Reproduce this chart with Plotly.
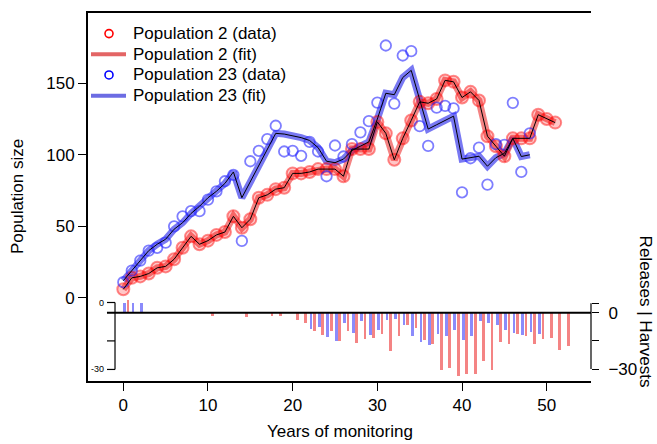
import plotly.graph_objects as go

# ---------------- data ----------------
years_pop2 = list(range(52))
pop2_data = [6, 14, 15, 17, 21, 22, 27, 35, 43, 37.5, 40, 44, 46, 57, 49, 55,
             70, 72, 76, 77, 87, 87, 88, 90, 90, 90, 85, 104, 104, 104, 123, 115,
             96.5, 111.5, 124, 137, 136, 139, 152, 151, 140, 144, 138, 113, 106, 99,
             111.5, 111.5, 111.5, 128, 125, 122.5]
pop2_fit = [6, 14, 15, 17, 21, 22, 27, 35, 43, 37.5, 40, 44, 46, 57, 49, 55,
            70, 72, 76, 77, 87, 87, 88, 90, 90, 90, 85, 104, 104, 104, 123, 115,
            96.5, 111.5, 124, 137, 136, 139, 152, 151, 140, 144, 138, 113, 106, 99,
            111.5, 111.5, 111.5, 128, 125, 122.5]

years_pop23 = list(range(49))
pop23_data = [11, 19, 26, 33, 35, 38.6, 50, 57, 60.6, 60.6, 68.7, 74.5, 81.5, 86,
              39.8, 95.5, 102.8, 111, 120.3, 102.3, 102.8, 99.3, 109, 102.3, 85,
              106.5, 98.8, 107.4, 115.7, 123.5, 136.5, 176.4, 135.8, 169.4, 172.4,
              120, 106.2, 133, 134.2, 132.4, 73.8, 97.6, 105, 79.2, 107.4, 107,
              136.3, 88, 115]
pop23_fit = [12, 19, 26, 33, 37.5, 41, 48, 52.5, 59, 64, 70, 74.5, 80, 88, 70,
             81, 92, 104, 115, 114.5, 113.5, 112, 110, 105, 95.5, 94.5, 97, 103,
             106, 109, 125, 143, 142, 154, 159, 138, 118, 121, 124, 127, 97, 98,
             99, 92, 98, 101, 111.5, 98.8, 100]

release_years_pop2 = [0]
release_pop2 = [7]
release_years_pop23 = [0, 1, 2]
release_pop23 = [5, 5, 5]

harvest_years_pop2 = [10, 14, 17, 18, 20, 21, 22, 23, 24, 25, 26, 27, 28, 29, 30,
                      31, 32, 33, 34, 35, 36, 37, 38, 39, 40, 41, 42, 43, 44, 45,
                      46, 47, 48, 49, 50, 51, 52]
harvest_pop2 = [1.6, 2.5, 1.5, 1.5, 3.7, 5.6, 9.5, 11.6, 9.5, 14.8, 9.9, 16, 13.9,
                13.4, 11.1, 20.5, 12.3, 6.3, 8.1, 14.6, 16.4, 30.5, 29.6, 33.7,
                32.8, 32.8, 25.6, 30.5, 15.5, 16.4, 11.1, 12.5, 16.4, 13.8, 13.2,
                19.6, 17.6]
harvest_years_pop23 = [22, 23, 24, 25, 26, 27, 28, 29, 30, 31, 32, 33, 34, 35, 36,
                       37, 38, 39, 40, 41, 42, 43, 44, 45, 46, 47, 48, 49]
harvest_pop23 = [8.6, 7.8, 12.7, 14.8, 5.6, 10.8, 4.6, 12, 9, 3.7, 3.2, 6.3, 12.3,
                 15.5, 17.3, 11.1, 12.5, 9.3, 14.3, 12.5, 4.4, 5.3, 6.3, 9.3, 10.8,
                 12, 10.2, 11.5]

x_ticks = [0, 10, 20, 30, 40, 50]
y_ticks = [0, 50, 100, 150]
legend_labels = ["Population 2 (data)", "Population 2 (fit)",
                 "Population 23 (data)", "Population 23 (fit)"]

# ---------------- styling ----------------
FONT = "Liberation Sans, Arial, Helvetica, sans-serif"
RED_THICK = "rgba(235,30,30,0.55)"
BLUE_THICK = "rgba(30,30,235,0.6)"
RED_BAR = "rgba(240,80,80,0.7)"
BLUE_BAR = "rgba(90,90,250,0.7)"
RED_OFF = 0.55
BLUE_OFF = 0.15

W, H = 657, 444
ML, MR, MT, MB = 88, 66, 11, 63
PW, PH = W - ML - MR, H - MT - MB


def px2paper(px, py):
    return (px - ML) / PW, 1 - (py - MT) / PH


fig = go.Figure()

# bars (lower panel), on y2
fig.add_trace(go.Bar(
    x=[t + BLUE_OFF for t in release_years_pop23] + [t + BLUE_OFF for t in harvest_years_pop23],
    y=release_pop23 + [-v for v in harvest_pop23],
    width=0.32, marker=dict(color=BLUE_BAR, line=dict(width=0)),
    yaxis="y2", showlegend=False, hoverinfo="skip"))
fig.add_trace(go.Bar(
    x=[t + RED_OFF for t in release_years_pop2] + [t + RED_OFF for t in harvest_years_pop2],
    y=release_pop2 + [-v for v in harvest_pop2],
    width=0.32, marker=dict(color=RED_BAR, line=dict(width=0)),
    yaxis="y2", showlegend=False, hoverinfo="skip"))

# fit lines (thick translucent + thin black)
fig.add_trace(go.Scatter(x=years_pop23, y=pop23_fit, mode="lines",
                         line=dict(color=BLUE_THICK, width=7), showlegend=False))
fig.add_trace(go.Scatter(x=years_pop2, y=pop2_fit, mode="lines",
                         line=dict(color=RED_THICK, width=7), showlegend=False))

# data points
fig.add_trace(go.Scatter(x=years_pop2, y=pop2_data, mode="markers",
                         marker=dict(symbol="circle", size=12, color="rgba(255,0,0,0.22)",
                                     line=dict(color="rgba(255,0,0,0.45)", width=2)),
                         showlegend=False))
fig.add_trace(go.Scatter(x=years_pop23, y=pop23_data, mode="markers",
                         marker=dict(symbol="circle-open", size=10.5,
                                     color="rgba(40,40,255,0.6)",
                                     line=dict(width=1.8)),
                         showlegend=False))

fig.add_trace(go.Scatter(x=years_pop23, y=pop23_fit, mode="lines",
                         line=dict(color="black", width=1), showlegend=False))
fig.add_trace(go.Scatter(x=years_pop2, y=pop2_fit, mode="lines",
                         line=dict(color="black", width=1), showlegend=False))

# --------- shapes: zero line and small axes for lower panel ---------
shapes = []
shapes.append(dict(type="line", xref="x", yref="y2", x0=-1.93, x1=55.23, y0=0, y1=0,
                   line=dict(color="black", width=2)))
shapes.append(dict(type="line", xref="paper", yref="y2", x0=1, x1=1, y0=5.1, y1=-30,
                   line=dict(color="black", width=1.2)))
shapes.append(dict(type="line", xref="x", yref="y2", x0=-0.98, x1=-0.98, y0=5.45, y1=-30.2,
                   line=dict(color="black", width=1.2)))
for yv in [5.45, -15, -30.2]:
    shapes.append(dict(type="line", xref="x", yref="y2", x0=-1.93, x1=-0.98, y0=yv, y1=yv,
                       line=dict(color="black", width=1.2)))

annotations = [
    dict(text="Population size", xref="paper", yref="paper", x=-0.141, y=0.5,
         textangle=-90, showarrow=False, font=dict(size=17, family=FONT, color="black"),
         xanchor="center", yanchor="middle"),
    dict(text="Years of monitoring", xref="paper", yref="paper", x=0.5, y=-0.138,
         showarrow=False, font=dict(size=17, family=FONT, color="black"),
         xanchor="center", yanchor="middle"),
    dict(text="Releases | Harvests", xref="paper", yref="paper", x=1.109, y=0.189,
         textangle=90, showarrow=False, font=dict(size=17, family=FONT, color="black"),
         xanchor="center", yanchor="middle"),
    dict(text="0", xref="x", yref="y2", x=-2.1, y=5.45, showarrow=False,
         xanchor="right", yanchor="middle", font=dict(size=9, family=FONT, color="black")),
    dict(text="-30", xref="x", yref="y2", x=-2.1, y=-30.2, showarrow=False,
         xanchor="right", yanchor="middle", font=dict(size=9, family=FONT, color="black")),
]

# --------- manual legend ---------
row_y = [31.7, 52.5, 73.3, 94.2]
leg_colors = ["red", "rgba(215,35,35,0.7)", "blue", "rgba(45,45,215,0.7)"]
for i, label in enumerate(legend_labels):
    tx, ty = px2paper(131, row_y[i])
    annotations.append(dict(text=label, xref="paper", yref="paper", x=tx, y=ty,
                            xanchor="left", yanchor="middle", showarrow=False,
                            font=dict(size=17, family=FONT, color="black")))
    if i % 2 == 0:
        cx, cy = px2paper(109, row_y[i])
        shapes.append(dict(type="circle", xref="paper", yref="paper",
                           xsizemode="pixel", ysizemode="pixel",
                           xanchor=cx, yanchor=cy, x0=-4, x1=4, y0=-4, y1=4,
                           line=dict(color=leg_colors[i], width=1.6)))
    else:
        x0, yy = px2paper(91, row_y[i])
        x1, _ = px2paper(126, row_y[i])
        shapes.append(dict(type="line", xref="paper", yref="paper", x0=x0, x1=x1,
                           y0=yy, y1=yy, line=dict(color=leg_colors[i], width=4)))

fig.update_layout(
    width=W, height=H,
    margin=dict(l=ML, r=MR, t=MT, b=MB),
    paper_bgcolor="white", plot_bgcolor="white",
    font=dict(family=FONT, size=17, color="black"),
    barmode="overlay", bargap=0,
    showlegend=False,
    xaxis=dict(range=[-4.17, 55.23], tickvals=x_ticks, ticks="outside", ticklen=8,
               tickwidth=1, tickcolor="black", showline=True, linecolor="black",
               linewidth=2, mirror=True, showgrid=False, zeroline=False,
               tickfont=dict(size=17)),
    yaxis=dict(range=[-58.1, 199.1], tickvals=y_ticks, ticks="outside", ticklen=8,
               tickwidth=1, tickcolor="black", showline=True, linecolor="black",
               linewidth=2, mirror=False, showgrid=False, zeroline=False,
               tickfont=dict(size=17)),
    yaxis2=dict(range=[-36.35, 159.6], overlaying="y", side="right", anchor="x",
                tickvals=[5.1, 0, -15, -30], ticktext=["", "0", "", "−30"],
                ticks="outside", ticklen=7, tickwidth=1.2, tickcolor="black",
                ticklabelstandoff=6,
                showline=False, showgrid=False, zeroline=False,
                tickfont=dict(size=17)),
    shapes=shapes, annotations=annotations,
)

fig.write_html("out.html")
